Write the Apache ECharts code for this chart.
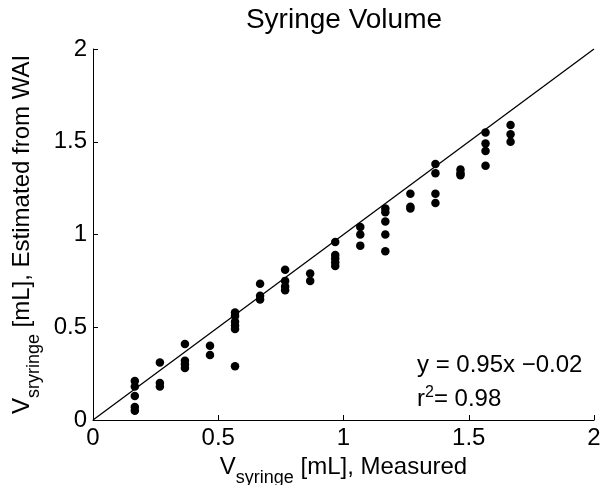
<!DOCTYPE html>
<html>
<head>
<meta charset="utf-8">
<script src="https://cdn.jsdelivr.net/npm/echarts@6/dist/echarts.min.js"></script>
<style>
  html, body { margin: 0; padding: 0; background: #fff; }
  #chart { width: 600px; height: 485px; }
</style>
</head>
<body>
<div id="chart"></div>
<script>
// measured syringe volumes (x) and the WAI estimates read at each of them (y)
var measured = [0.167, 0.267, 0.367, 0.467, 0.567, 0.667, 0.767, 0.867,
  0.967, 1.067, 1.167, 1.267, 1.367, 1.467, 1.567, 1.667];
var estimated = [
  [0.21, 0.18, 0.13, 0.07, 0.05],
  [0.31, 0.20, 0.18],
  [0.41, 0.32, 0.30, 0.28],
  [0.40, 0.35],
  [0.58, 0.56, 0.53, 0.51, 0.49, 0.29],
  [0.735, 0.67, 0.65],
  [0.81, 0.75, 0.72, 0.70],
  [0.79, 0.75],
  [0.96, 0.89, 0.87, 0.85, 0.83],
  [1.04, 1.00, 0.94],
  [1.14, 1.12, 1.07, 1.00, 0.91],
  [1.22, 1.15, 1.14],
  [1.38, 1.33, 1.22, 1.17],
  [1.35, 1.33, 1.32],
  [1.55, 1.49, 1.45, 1.37],
  [1.59, 1.54, 1.50]
];
// reference line drawn across the axes
var lineX = [0, 2];
var lineY = [0, 2];
var axisTicks = [0, 0.5, 1, 1.5, 2];

var FONT = 'Liberation Sans';

var points = [];
for (var i = 0; i < measured.length; i++) {
  for (var j = 0; j < estimated[i].length; j++) {
    points.push([measured[i], estimated[i][j]]);
  }
}
var lineData = [];
for (var k = 0; k < lineX.length; k++) {
  lineData.push([lineX[k], lineY[k]]);
}

var nameRich = {
  v: { fontSize: 24, lineHeight: 24, verticalAlign: 'top', color: '#000', fontFamily: FONT },
  s: { fontSize: 18, lineHeight: 18, verticalAlign: 'top', padding: [14, 0, 0, 0], color: '#000', fontFamily: FONT }
};

function axisCommon() {
  return {
    type: 'value',
    min: axisTicks[0],
    max: axisTicks[axisTicks.length - 1],
    interval: 0.5,
    axisLine: { show: true, lineStyle: { color: '#000', width: 1 } },
    axisTick: { show: true, inside: true, length: 5, lineStyle: { color: '#000' } },
    splitLine: { show: false },
    axisLabel: {
      color: '#000', fontSize: 24, fontFamily: FONT,
      formatter: function (v) { return String(v); }
    },
    nameLocation: 'middle',
    nameTextStyle: { rich: nameRich }
  };
}

var xAxis = axisCommon();
xAxis.name = '{v|V}{s|syringe}{v| [mL], Measured}';
xAxis.nameGap = 26;
xAxis.axisLabel.margin = 6;

var yAxis = axisCommon();
yAxis.name = '{v|V}{s|sryringe}{v| [mL], Estimated from WAI}';
yAxis.nameGap = 46;
yAxis.axisLabel.margin = 6;

var chart = echarts.init(document.getElementById('chart'), null, { renderer: 'canvas' });
chart.setOption({
  backgroundColor: '#fff',
  animation: false,
  textStyle: { fontFamily: FONT },
  grid: { left: 93, right: 6, top: 49, bottom: 65, containLabel: false, outerBoundsMode: 'none' },
  xAxis: xAxis,
  yAxis: yAxis,
  series: [
    {
      type: 'line',
      data: lineData,
      showSymbol: false,
      lineStyle: { color: '#000', width: 1.3 },
      z: 2
    },
    {
      type: 'scatter',
      data: points,
      symbol: 'circle',
      symbolSize: 8.5,
      itemStyle: { color: '#000', opacity: 1 },
      z: 3
    }
  ],
  graphic: [
    {
      type: 'text',
      x: 344, y: 6,
      style: {
        text: 'Syringe Volume',
        fontSize: 28, fontFamily: FONT, fill: '#000',
        align: 'center', verticalAlign: 'top'
      }
    },
    {
      type: 'text',
      x: 417, y: 353,
      style: {
        text: 'y = 0.95x \u22120.02',
        fontSize: 24, fontFamily: FONT, fill: '#000',
        verticalAlign: 'top'
      }
    },
    {
      type: 'text',
      x: 417, y: 385,
      style: {
        text: '{r|r}{p|2}{r|= 0.98}',
        verticalAlign: 'top',
        rich: {
          r: { fontSize: 24, lineHeight: 26, verticalAlign: 'bottom', fontFamily: FONT, fill: '#000' },
          p: { fontSize: 16, lineHeight: 16, verticalAlign: 'top', padding: [0, 0, 10, 0], fontFamily: FONT, fill: '#000' }
        }
      }
    }
  ]
});
</script>
</body>
</html>
